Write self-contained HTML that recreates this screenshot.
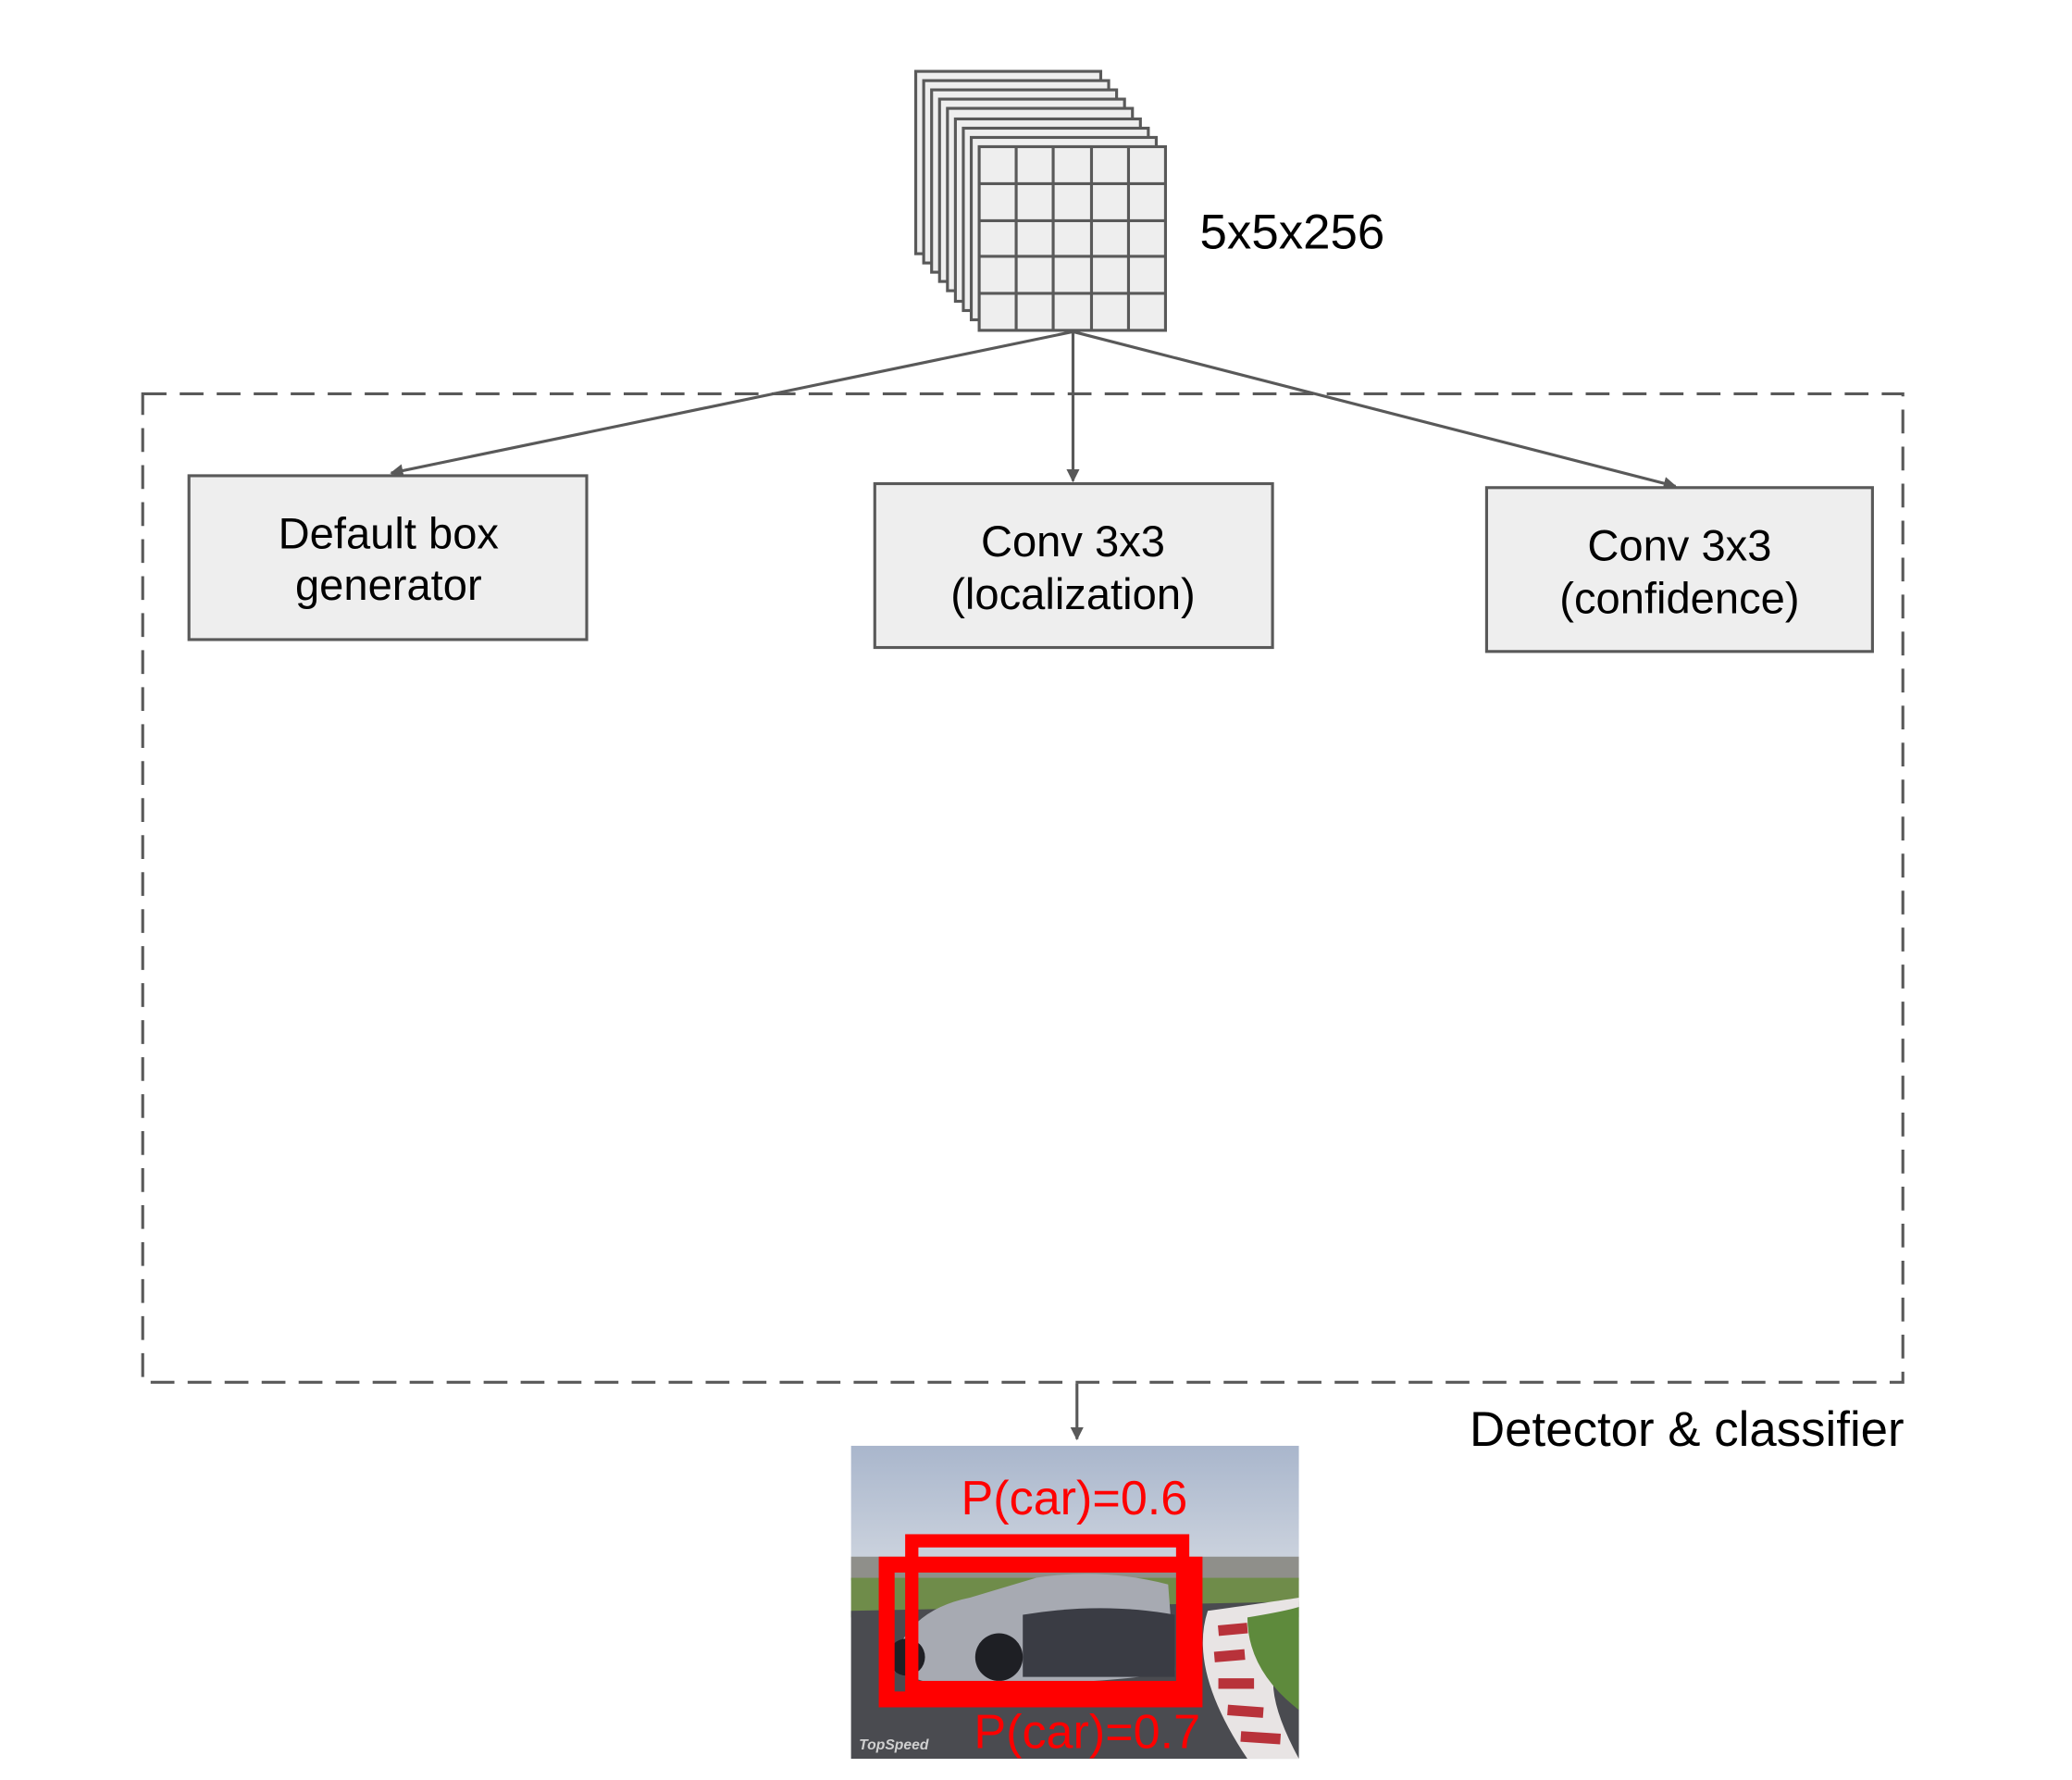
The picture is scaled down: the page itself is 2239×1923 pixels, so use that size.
<!DOCTYPE html>
<html><head><meta charset="utf-8"><style>
html,body{margin:0;padding:0;background:#fff;}
svg{display:block;}
text{font-family:"Liberation Sans",Arial,sans-serif;}
</style></head><body>
<svg width="2239" height="1923" viewBox="0 0 1568 1347" preserveAspectRatio="none" xmlns="http://www.w3.org/2000/svg">
<defs>
<marker id="ah" markerWidth="10" markerHeight="10" refX="9" refY="5" orient="auto" markerUnits="userSpaceOnUse">
<path d="M0,0 L10,5 L0,10 z" fill="#595959"/></marker>
<linearGradient id="sky" x1="0" y1="0" x2="0" y2="1">
<stop offset="0" stop-color="#a9b6cc"/><stop offset="0.5" stop-color="#d8dde4"/><stop offset="1" stop-color="#c9cdd2"/></linearGradient>
</defs>
<g stroke="#595959" stroke-width="2.2" fill="#eeeeee">
<rect x="693" y="54" width="140" height="138"/>
<rect x="699" y="61" width="140" height="138"/>
<rect x="705" y="68" width="140" height="138"/>
<rect x="711" y="75" width="140" height="138"/>
<rect x="717" y="82" width="140" height="138"/>
<rect x="723" y="90" width="140" height="138"/>
<rect x="729" y="97" width="140" height="138"/>
<rect x="735" y="104" width="140" height="138"/>
<rect x="741" y="111" width="141" height="139"/>
<path d="M769,111V250M797,111V250M826,111V250M854,111V250M741,139H882M741,167H882M741,194H882M741,222H882" fill="none"/>
</g>
<text x="908" y="188" font-size="37">5x5x256</text>
<rect x="108" y="298" width="1332" height="748" fill="none" stroke="#595959" stroke-width="2.2" stroke-dasharray="18,10"/>
<g stroke="#595959" stroke-width="2.2" fill="none" marker-end="url(#ah)">
<line x1="812" y1="251" x2="296" y2="358"/>
<line x1="812" y1="251" x2="812" y2="364"/>
<line x1="812" y1="251" x2="1268" y2="368"/>
<line x1="815" y1="1047" x2="815" y2="1089"/>
</g>
<g stroke="#595959" stroke-width="2.2" fill="#eeeeee">
<rect x="143" y="360" width="301" height="124"/>
<rect x="662" y="366" width="301" height="124"/>
<rect x="1125" y="369" width="292" height="124"/>
</g>
<g font-size="33" text-anchor="middle" fill="#000">
<text x="294" y="415">Default box</text><text x="294" y="454">generator</text>
<text x="812" y="421">Conv 3x3</text><text x="812" y="461">(localization)</text>
<text x="1271" y="424">Conv 3x3</text><text x="1271" y="464">(confidence)</text>
</g>
<text x="1441" y="1094" font-size="37" text-anchor="end">Detector &amp; classifier</text>
<svg x="644" y="1094" width="339" height="237" viewBox="0 0 339 237" preserveAspectRatio="none">
<rect width="339" height="237" fill="url(#sky)"/>
<rect y="84" width="339" height="18" fill="#8f8f8a"/>
<rect y="100" width="339" height="30" fill="#6f8c4a"/>
<path d="M0,125 L339,118 L339,237 L0,237z" fill="#4a4b50"/>
<path d="M270,125 Q320,118 339,115 L339,150 Q300,165 339,237 L300,237 Q255,170 270,125z" fill="#e8e4e4"/>
<path d="M278,140 L300,138 M275,160 L298,158 M278,180 L305,180 M285,200 L312,202 M295,220 L325,222" stroke="#b8323a" stroke-width="8"/>
<path d="M300,130 Q330,125 339,122 L339,200 Q300,170 300,130z" fill="#5e8a3c"/>
<path d="M30,170 Q40,125 90,115 L140,100 Q190,92 240,105 L245,170 Q200,182 60,180z" fill="#a7aab2"/>
<path d="M130,128 Q190,118 245,128 L245,175 L130,175z" fill="#3a3c44"/>
<circle cx="112" cy="160" r="18" fill="#1e1f24"/>
<circle cx="42" cy="160" r="14" fill="#1e1f24"/>
<text x="6" y="230" font-size="11" font-style="italic" font-weight="bold" fill="#d0d0d0">TopSpeed</text>
</svg>
<g fill="none" stroke="#ff0000">
<rect x="690" y="1166" width="205" height="111" stroke-width="10"/>
<rect x="671" y="1184" width="233" height="102" stroke-width="12"/>
</g>
<g fill="#ff0000" font-size="36.5">
<text x="813" y="1146" text-anchor="middle">P(car)=0.6</text>
<text x="737" y="1323">P(car)=0.7</text>
</g>
</svg>
</body></html>
